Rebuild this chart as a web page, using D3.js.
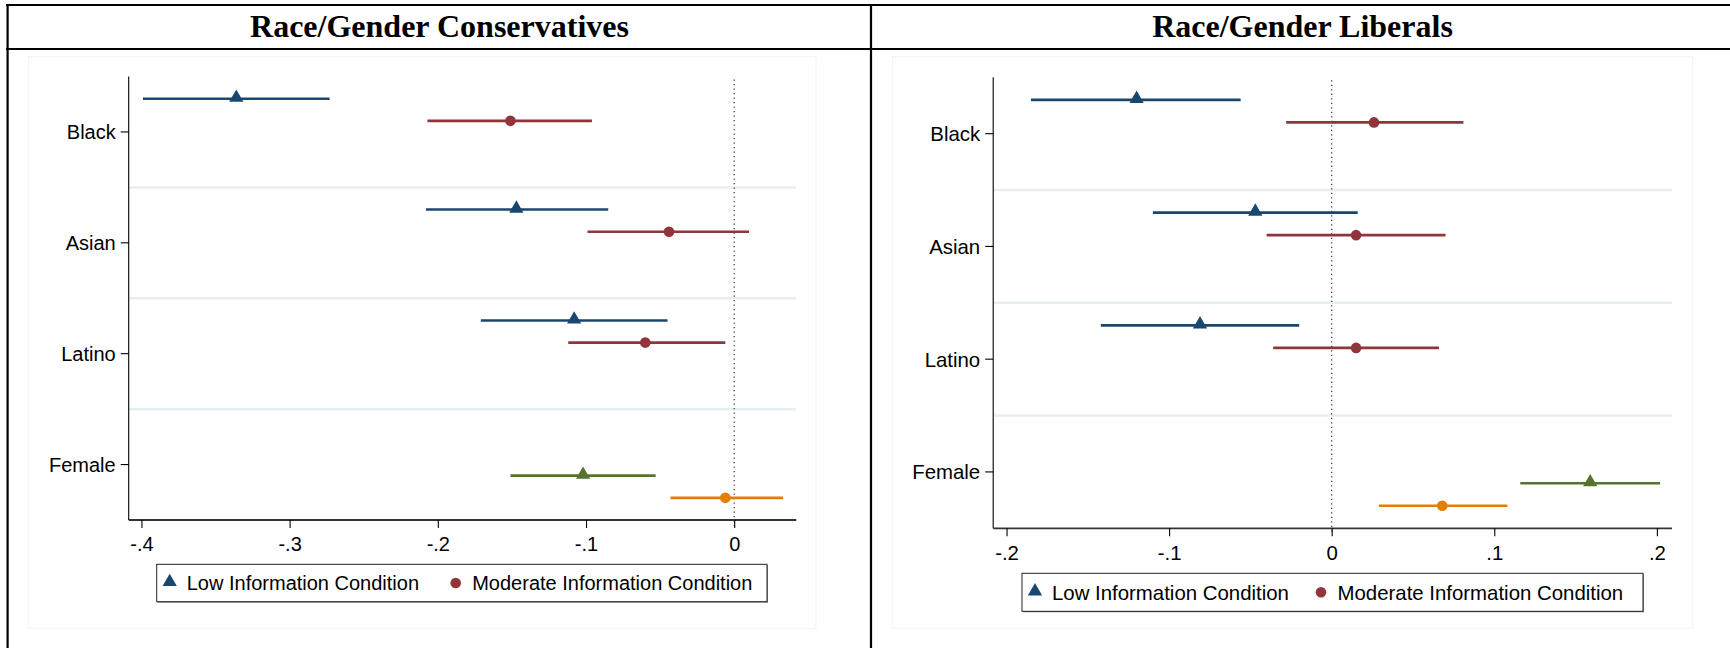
<!DOCTYPE html>
<html>
<head>
<meta charset="utf-8">
<script src="https://cdn.jsdelivr.net/npm/d3@7"></script>
<style>
  html, body { margin: 0; padding: 0; background: #fff; }
  svg { display: block; }
</style>
</head>
<body>
<svg id="chart" width="1730" height="648"></svg>
<script>
// Categories shared by both panels
const categories = ["Black", "Asian", "Latino", "Female"];

// Race/Gender Conservatives: point estimates and 95% interval bounds
const consLowEst = [-0.336, -0.147, -0.108, -0.102];
const consLowLo  = [-0.399, -0.208, -0.171, -0.151];
const consLowHi  = [-0.273, -0.085, -0.045, -0.053];
const consModEst = [-0.151, -0.044, -0.060, -0.006];
const consModLo  = [-0.207, -0.099, -0.112, -0.043];
const consModHi  = [-0.096,  0.010, -0.006,  0.033];

// Race/Gender Liberals: point estimates and 95% interval bounds
const libLowEst = [-0.120, -0.047, -0.081, 0.159];
const libLowLo  = [-0.185, -0.110, -0.142, 0.116];
const libLowHi  = [-0.056,  0.016, -0.020, 0.202];
const libModEst = [ 0.026,  0.015,  0.015, 0.068];
const libModLo  = [-0.028, -0.040, -0.036, 0.029];
const libModHi  = [ 0.081,  0.070,  0.066, 0.108];

// Axis ticks and their labels
const consTicks = [-0.4, -0.3, -0.2, -0.1, 0];
const consTickLabels = ["-.4", "-.3", "-.2", "-.1", "0"];
const libTicks = [-0.2, -0.1, 0, 0.1, 0.2];
const libTickLabels = ["-.2", "-.1", "0", ".1", ".2"];

// Legend entries
const legendLabels = ["Low Information Condition", "Moderate Information Condition"];

// Colours: race rows use navy/maroon, the gender row green/orange
const lowColors = ["#1a476f", "#1a476f", "#1a476f", "#55752f"];
const modColors = ["#90353b", "#90353b", "#90353b", "#e37e00"];

// Vertical offsets (fraction of a row) for the two conditions in each row
const lowShift = [-0.3, -0.3, -0.3, 0.1];
const modShift = [-0.1, -0.1, -0.1, 0.3];

const svg = d3.select("#chart");
const sansFont = "'Liberation Sans', Arial, sans-serif";
const serifFont = "'Liberation Serif', 'Times New Roman', serif";

const panels = [
  {
    title: "Race/Gender Conservatives",
    cell: [8, 871],
    region: { x: 28.7, y: 56.7, w: 787.3, h: 571.6 },
    plot: { left: 128.7, right: 796.3, top: 76.5, bottom: 520 },
    domain: [-0.4086, 0.0419],
    ticks: consTicks, tickLabels: consTickLabels,
    low: { est: consLowEst, lo: consLowLo, hi: consLowHi },
    mod: { est: consModEst, lo: consModLo, hi: consModHi },
    font: 20,
    legend: { x: 156.7, y: 564.3, w: 610.3, h: 37.4 }
  },
  {
    title: "Race/Gender Liberals",
    cell: [871, 1734],
    region: { x: 892.7, y: 56.7, w: 800, h: 571.6 },
    plot: { left: 993.2, right: 1672, top: 77.3, bottom: 528.3 },
    domain: [-0.2082, 0.2093],
    ticks: libTicks, tickLabels: libTickLabels,
    low: { est: libLowEst, lo: libLowLo, hi: libLowHi },
    mod: { est: libModEst, lo: libModLo, hi: libModHi },
    font: 20.4,
    legend: { x: 1022, y: 573.3, w: 621, h: 38 }
  }
];

// Outer table frame: top edge, header divider, left edge and the column divider
const frame = svg.append("g").attr("stroke", "#000").attr("stroke-width", 2.2);
frame.append("line").attr("x1", 6).attr("x2", 1730).attr("y1", 5).attr("y2", 5);
frame.append("line").attr("x1", 6).attr("x2", 1730).attr("y1", 49).attr("y2", 49);
frame.append("line").attr("x1", 7.6).attr("x2", 7.6).attr("y1", 4).attr("y2", 648);
frame.append("line").attr("x1", 871).attr("x2", 871).attr("y1", 4).attr("y2", 648);

const triangle = d3.symbol().type(d3.symbolTriangle).size(88);

panels.forEach(p => {
  const g = svg.append("g");

  // Header title
  g.append("text")
    .attr("x", (p.cell[0] + p.cell[1]) / 2)
    .attr("y", 37)
    .attr("text-anchor", "middle")
    .attr("font-family", serifFont)
    .attr("font-weight", "bold")
    .attr("font-size", 32)
    .text(p.title);

  // Faint graph-region outline
  g.append("rect")
    .attr("x", p.region.x).attr("y", p.region.y)
    .attr("width", p.region.w).attr("height", p.region.h)
    .attr("fill", "none").attr("stroke", "#f1f4f4").attr("stroke-width", 1);

  const x = d3.scaleLinear().domain(p.domain).range([p.plot.left, p.plot.right]);
  const y = d3.scaleBand().domain(categories).range([p.plot.top, p.plot.bottom]).padding(0);
  const bw = y.bandwidth();
  const yc = c => y(c) + bw / 2;

  // Light separators between rows
  g.append("g").selectAll("line")
    .data(categories.slice(1))
    .join("line")
    .attr("x1", p.plot.left).attr("x2", p.plot.right)
    .attr("y1", d => y(d)).attr("y2", d => y(d))
    .attr("stroke", "#e6eff0").attr("stroke-width", 2.5);

  // Dotted reference line at zero
  g.append("line")
    .attr("x1", x(0)).attr("x2", x(0))
    .attr("y1", p.plot.top + 3).attr("y2", p.plot.bottom + 6)
    .attr("stroke", "#222").attr("stroke-width", 1.1)
    .attr("stroke-dasharray", "1.2,3.3");

  // Y axis
  const yAxis = g.append("g")
    .attr("transform", `translate(${p.plot.left},0)`)
    .call(d3.axisLeft(y).tickSize(8).tickPadding(5));
  yAxis.select(".domain").attr("stroke", "#000").attr("stroke-width", 1.1)
    .attr("d", `M0,${p.plot.top}V${p.plot.bottom}`);
  yAxis.selectAll(".tick line").attr("stroke", "#000").attr("stroke-width", 1.1);
  yAxis.selectAll(".tick text")
    .attr("font-family", sansFont).attr("font-size", p.font)
    .attr("fill", "#000").attr("dy", "0.36em");

  // X axis
  const xAxis = g.append("g")
    .attr("transform", `translate(0,${p.plot.bottom})`)
    .call(d3.axisBottom(x).tickValues(p.ticks)
      .tickFormat((d, i) => p.tickLabels[i]).tickSize(8).tickPadding(6));
  xAxis.select(".domain").attr("stroke", "#333").attr("stroke-width", 1.8)
    .attr("d", `M${p.plot.left},0H${p.plot.right}`);
  xAxis.selectAll(".tick line").attr("stroke", "#000").attr("stroke-width", 1.1);
  xAxis.selectAll(".tick text")
    .attr("font-family", sansFont).attr("font-size", p.font)
    .attr("fill", "#000").attr("dy", "0.85em");

  // Interval lines and markers for each condition
  const series = [
    { d: p.low, colors: lowColors, shift: lowShift, marker: "tri" },
    { d: p.mod, colors: modColors, shift: modShift, marker: "dot" }
  ];
  series.forEach(s => {
    const rows = categories.map((c, i) => ({
      cat: c, est: s.d.est[i], lo: s.d.lo[i], hi: s.d.hi[i],
      color: s.colors[i], yy: yc(c) + s.shift[i] * bw
    }));
    g.append("g").selectAll("line")
      .data(rows).join("line")
      .attr("x1", r => x(r.lo)).attr("x2", r => x(r.hi))
      .attr("y1", r => r.yy).attr("y2", r => r.yy)
      .attr("stroke", r => r.color).attr("stroke-width", 2.6);
    if (s.marker === "tri") {
      g.append("g").selectAll("path")
        .data(rows).join("path")
        .attr("d", triangle)
        .attr("transform", r => `translate(${x(r.est)},${r.yy - 1})`)
        .attr("fill", r => r.color);
    } else {
      g.append("g").selectAll("ellipse")
        .data(rows).join("ellipse")
        .attr("cx", r => x(r.est)).attr("cy", r => r.yy)
        .attr("rx", 5.3).attr("ry", 5.3)
        .attr("fill", r => r.color);
    }
  });

  // Legend
  const L = p.legend;
  const lg = g.append("g").attr("transform", `translate(${L.x},${L.y})`);
  lg.append("rect")
    .attr("x", 1).attr("y", 1).attr("width", L.w).attr("height", L.h)
    .attr("fill", "#888");
  lg.append("rect")
    .attr("width", L.w).attr("height", L.h)
    .attr("fill", "#fff").attr("stroke", "#222").attr("stroke-width", 1);
  const cy = L.h / 2;
  lg.append("path").attr("d", triangle)
    .attr("transform", `translate(${13},${cy - 1})`).attr("fill", lowColors[0]);
  lg.append("ellipse").attr("cx", 299).attr("cy", cy)
    .attr("rx", 5.3).attr("ry", 5.3).attr("fill", modColors[0]);
  lg.selectAll("text.lbl")
    .data(legendLabels).join("text")
    .attr("class", "lbl")
    .attr("x", (d, i) => i === 0 ? 30 : 315.5)
    .attr("y", cy + 7.5)
    .attr("font-family", sansFont).attr("font-size", p.font)
    .attr("fill", "#000")
    .text(d => d);
});
</script>
</body>
</html>
